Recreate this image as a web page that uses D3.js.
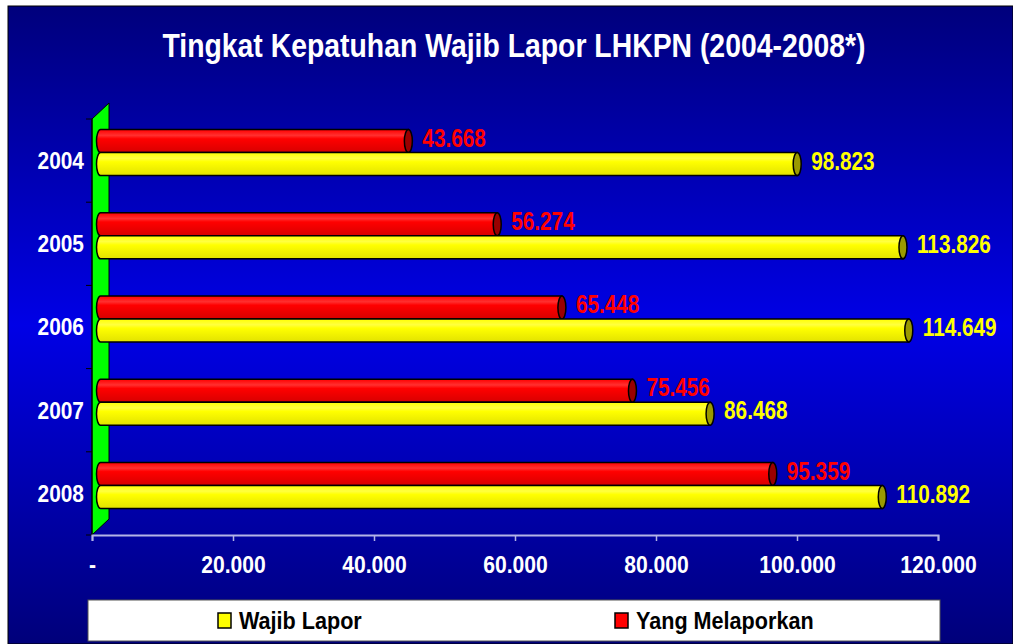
<!DOCTYPE html>
<html>
<head>
<meta charset="utf-8">
<script src="https://cdn.jsdelivr.net/npm/d3@7"></script>
<style>
  body { margin: 0; background: #fff; }
  svg text { font-family: "Liberation Sans", Arial, sans-serif; font-weight: bold; }
</style>
</head>
<body>
<div id="chart"></div>
<script>
const years = ["2004", "2005", "2006", "2007", "2008"];
const wajibLapor = [98823, 113826, 114649, 86468, 110892];
const yangMelaporkan = [43668, 56274, 65448, 75456, 95359];
const xTicks = [0, 20000, 40000, 60000, 80000, 100000, 120000];
const seriesNames = ["Wajib Lapor", "Yang Melaporkan"];

const w = 1013, h = 644;
const idLocale = d3.formatLocale({decimal: ",", thousands: ".", grouping: [3], currency: ["Rp", ""]});
const fmt = idLocale.format(",d");

// the source picture has its text squeezed horizontally
function squeeze(s) {
  return "scale(" + s + ",1)";
}

const svg = d3.select("#chart").append("svg")
  .attr("width", w)
  .attr("height", h);

// Background gradient
const defs = svg.append("defs");
const bg = defs.append("linearGradient").attr("id", "bg").attr("x1", 0).attr("y1", 0).attr("x2", 0).attr("y2", 1);
bg.append("stop").attr("offset", "0%").attr("stop-color", "#00007c");
bg.append("stop").attr("offset", "50%").attr("stop-color", "#0000e6");
bg.append("stop").attr("offset", "100%").attr("stop-color", "#00007a");

const grads = {
  yellow: ["#ffff40", "#ffff00", "#e2e200"],
  red: ["#ff3030", "#ff0000", "#d80000"]
};
Object.keys(grads).forEach(function(k) {
  const g = defs.append("linearGradient").attr("id", "g-" + k).attr("x1", 0).attr("y1", 0).attr("x2", 0).attr("y2", 1);
  g.append("stop").attr("offset", "0%").attr("stop-color", grads[k][1]);
  g.append("stop").attr("offset", "25%").attr("stop-color", grads[k][0]);
  g.append("stop").attr("offset", "40%").attr("stop-color", grads[k][1]);
  g.append("stop").attr("offset", "100%").attr("stop-color", grads[k][2]);
});

svg.append("rect")
  .attr("x", 8).attr("y", 6)
  .attr("width", w - 8).attr("height", h - 6)
  .attr("fill", "url(#bg)")
  .attr("stroke", "#000")
  .attr("stroke-width", 1);

// Title
const titleScale = 0.86;
svg.append("text")
  .attr("x", 514 / titleScale)
  .attr("y", 57)
  .attr("transform", squeeze(titleScale))
  .attr("text-anchor", "middle")
  .attr("font-size", 33)
  .attr("fill", "#fff")
  .text("Tingkat Kepatuhan Wajib Lapor LHKPN (2004-2008*)");

// Scales
const depthX = 17, depthY = -16;
const dx = depthX / 2, dy = depthY / 2;
const x = d3.scaleLinear().domain([0, 120000]).range([92, 938]);
const y = d3.scaleBand().domain(years).range([119, 535]);
const ySub = d3.scaleBand().domain(["Yang Melaporkan", "Wajib Lapor"])
  .range([0, y.bandwidth()])
  .paddingOuter(0.81);

// Green wall
svg.append("path")
  .attr("d", "M" + x(0) + "," + y.range()[0] +
    "L" + (x(0) + depthX) + "," + (y.range()[0] + depthY) +
    "L" + (x(0) + depthX) + "," + (y.range()[1] + depthY) +
    "L" + x(0) + "," + y.range()[1] + "Z")
  .attr("fill", "#00ff00")
  .attr("stroke", "#000")
  .attr("stroke-width", 1);

// Vertical axis
const yAxis = svg.append("g");
yAxis.append("line")
  .attr("x1", x(0)).attr("x2", x(0))
  .attr("y1", y.range()[0]).attr("y2", y.range()[1])
  .attr("stroke", "#000");
yAxis.selectAll("line.tk")
  .data(years.concat(["end"]))
  .enter()
  .append("line")
  .attr("class", "tk")
  .attr("x1", x(0) - 6).attr("x2", x(0))
  .attr("y1", function(d, i) { return y.range()[0] + i * y.step(); })
  .attr("y2", function(d, i) { return y.range()[0] + i * y.step(); })
  .attr("stroke", "#000");
const yearScale = 0.87;
yAxis.selectAll("text")
  .data(years)
  .enter()
  .append("text")
  .attr("x", 84 / yearScale)
  .attr("y", function(d) { return y(d) + y.bandwidth() / 2; })
  .attr("transform", squeeze(yearScale))
  .attr("dy", "0.35em")
  .attr("text-anchor", "end")
  .attr("font-size", 24)
  .attr("fill", "#fff")
  .text(function(d) { return d; });

// Horizontal axis
const xAxis = d3.axisBottom(x)
  .tickValues(xTicks)
  .tickSize(6)
  .tickFormat(function(d) { return d === 0 ? "-" : fmt(d); });
const xAxisGroup = svg.append("g")
  .attr("transform", "translate(0," + y.range()[1] + ")")
  .call(xAxis);
xAxisGroup.select(".domain").attr("stroke", "#b4b4e6").attr("stroke-width", 2);
xAxisGroup.selectAll(".tick line").attr("stroke", "#b4b4e6").attr("stroke-width", 1.5);
xAxisGroup.selectAll(".tick text")
  .attr("fill", "#fff")
  .attr("font-size", 24)
  .attr("font-family", null)
  .attr("transform", squeeze(0.88))
  .attr("y", 38)
  .attr("dy", 0);

// Bars
const items = [];
years.forEach(function(yr, i) {
  items.push({year: yr, series: "Yang Melaporkan", value: yangMelaporkan[i], color: "red", cap: "#9a0000", label: "#ff0000"});
  items.push({year: yr, series: "Wajib Lapor", value: wajibLapor[i], color: "yellow", cap: "#9a9a00", label: "#ffff00"});
});

const rx = 4;
const bars = svg.append("g")
  .attr("transform", "translate(" + dx + "," + dy + ")")
  .selectAll("g")
  .data(items)
  .enter()
  .append("g");

bars.append("path")
  .attr("d", function(d) {
    const x0 = x(0), x1 = x(d.value);
    const top = y(d.year) + ySub(d.series), bh = ySub.bandwidth();
    return "M" + x0 + "," + top + "L" + x1 + "," + top +
      "L" + x1 + "," + (top + bh) + "L" + x0 + "," + (top + bh) +
      "A" + rx + "," + (bh / 2) + " 0 0 1 " + x0 + "," + top + "Z";
  })
  .attr("fill", function(d) { return "url(#g-" + d.color + ")"; })
  .attr("stroke", "#000")
  .attr("stroke-width", 1.5);

bars.append("ellipse")
  .attr("cx", function(d) { return x(d.value); })
  .attr("cy", function(d) { return y(d.year) + ySub(d.series) + ySub.bandwidth() / 2; })
  .attr("rx", rx)
  .attr("ry", ySub.bandwidth() / 2)
  .attr("fill", function(d) { return d.cap; })
  .attr("stroke", "#000")
  .attr("stroke-width", 1.5);

const labelScale = 0.83;
bars.append("text")
  .attr("x", function(d) { return (x(d.value) + 14) / labelScale; })
  .attr("y", function(d) { return y(d.year) + ySub(d.series) + ySub.bandwidth() / 2 - 3; })
  .attr("transform", squeeze(labelScale))
  .attr("dy", "0.35em")
  .attr("font-size", 25)
  .attr("fill", function(d) { return d.label; })
  .text(function(d) { return fmt(d.value); });

// Legend
const legend = svg.append("g");
legend.append("rect")
  .attr("x", 88).attr("y", 600)
  .attr("width", 852).attr("height", 41)
  .attr("fill", "#fff")
  .attr("stroke", "#555");
const legendItems = legend.selectAll("g")
  .data([{name: seriesNames[0], color: "#ffff00", x: 218}, {name: seriesNames[1], color: "#ff0000", x: 615}])
  .enter()
  .append("g");
legendItems.append("rect")
  .attr("x", function(d) { return d.x; })
  .attr("y", 613)
  .attr("width", 13).attr("height", 15)
  .attr("fill", function(d) { return d.color; })
  .attr("stroke", "#000")
  .attr("stroke-width", 1.5);
const legendScale = 0.9;
legendItems.append("text")
  .attr("x", function(d) { return (d.x + 21) / legendScale; })
  .attr("y", 621)
  .attr("transform", squeeze(legendScale))
  .attr("dy", "0.35em")
  .attr("font-size", 24)
  .attr("fill", "#000")
  .text(function(d) { return d.name; });
</script>
</body>
</html>
